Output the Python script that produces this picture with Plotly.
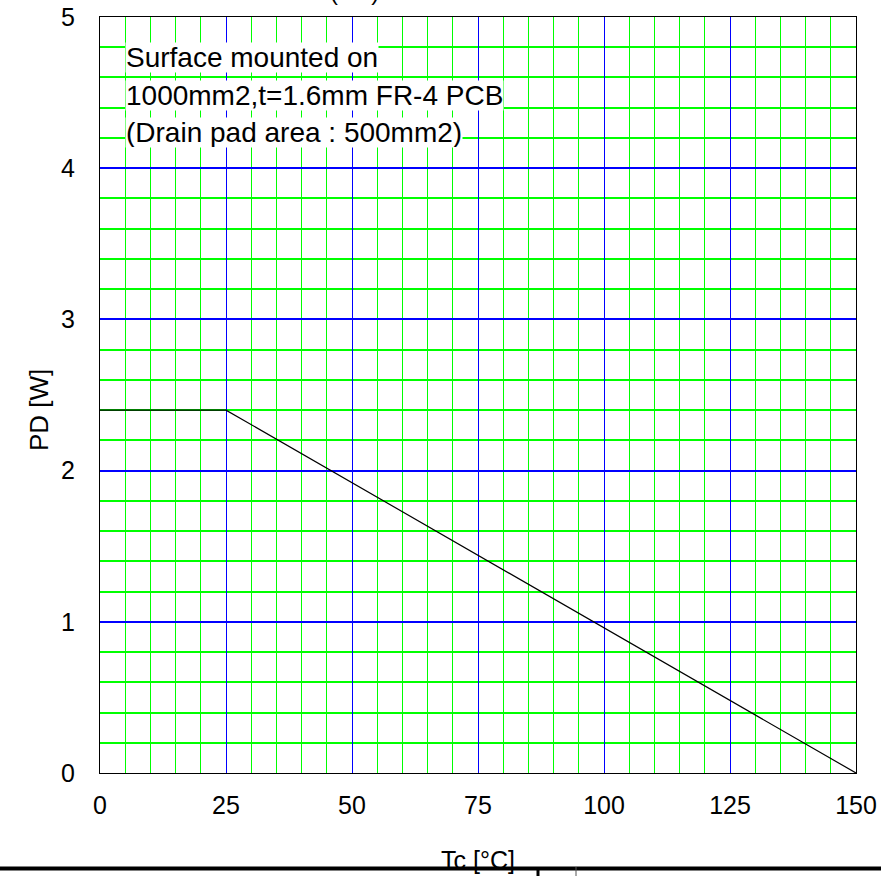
import plotly.graph_objects as go

# Data
tc = [0, 25, 150]
pd_w = [2.4, 2.4, 0]
x_ticks = [0, 25, 50, 75, 100, 125, 150]
y_ticks = [0, 1, 2, 3, 4, 5]
note_lines = ["Surface mounted on", "1000mm2,t=1.6mm FR-4 PCB", "(Drain pad area : 500mm2)"]
note_y = [4.735, 4.484, 4.233]

W, H = 881, 876
L, R, T, B = 100, 25, 17, 103
pw, ph = W - L - R, H - T - B

def px_to_paper_x(px):
    return (px - L) / pw

def px_to_paper_y(py):
    return (H - B - py) / ph

FONT = "Liberation Sans, Arial, sans-serif"

fig = go.Figure()
# invisible trace on the major-grid overlay axes so they get drawn
fig.add_trace(go.Scatter(x=[tc[0]], y=[pd_w[0]], xaxis="x2", yaxis="y2", mode="markers",
                         marker=dict(opacity=0), showlegend=False, hoverinfo="skip"))
fig.add_trace(go.Scatter(x=tc, y=pd_w, mode="lines",
                         line=dict(color="black", width=1.2), showlegend=False,
                         hoverinfo="skip"))

tickfont = dict(family=FONT, size=25, color="black")

fig.update_layout(
    xaxis=dict(range=[0, 150], dtick=5, tick0=0, showgrid=True, gridcolor="#00ff00",
               gridwidth=1, showticklabels=False, ticks="", zeroline=False,
               showline=True, mirror=True, linecolor="black", linewidth=1),
    yaxis=dict(range=[0, 5], dtick=0.2, tick0=0, showgrid=True, gridcolor="#00ff00",
               gridwidth=1.5, showticklabels=False, ticks="", zeroline=False,
               showline=True, mirror=True, linecolor="black", linewidth=1),
    xaxis2=dict(range=[0, 150], overlaying="x", side="bottom", tickvals=x_ticks,
                ticktext=[str(v) for v in x_ticks], showgrid=True, gridcolor="#0000ff",
                gridwidth=1, ticks="", zeroline=False, tickfont=tickfont,
                ticklabelstandoff=15, showline=False),
    yaxis2=dict(range=[0, 5], overlaying="y", side="left", tickvals=y_ticks,
                ticktext=[str(v) for v in y_ticks], showgrid=True, gridcolor="#0000ff",
                gridwidth=1.5, ticks="", zeroline=False, tickfont=tickfont,
                ticklabelstandoff=24, showline=False),
)

annotations = []
for txt, yv in zip(note_lines, note_y):
    annotations.append(dict(x=5, y=yv, xref="x", yref="y", text=txt, showarrow=False,
                            xanchor="left", yanchor="middle", bgcolor="white", height=29,
                            borderpad=0, font=dict(family=FONT, size=28, color="black")))

# axis titles
annotations.append(dict(x=px_to_paper_x(22), y=px_to_paper_y(410), xref="paper", yref="paper",
                        text="PD [W]", textangle=-90, showarrow=False,
                        font=dict(family=FONT, size=26, color="black")))
annotations.append(dict(x=px_to_paper_x(478), y=px_to_paper_y(860), xref="paper", yref="paper",
                        text="Tc [°C]", showarrow=False, yanchor="middle",
                        font=dict(family=FONT, size=25, color="black")))
# cut-off title at the top
annotations.append(dict(x=px_to_paper_x(354), y=px_to_paper_y(6), xref="paper", yref="paper",
                        text="(PD)", showarrow=False, yanchor="bottom", borderpad=0,
                        font=dict(family=FONT, size=24, color="black")))

shapes = [
    dict(type="line", xref="paper", yref="paper",
         x0=px_to_paper_x(0), x1=px_to_paper_x(W), y0=px_to_paper_y(868.5), y1=px_to_paper_y(868.5),
         line=dict(color="black", width=4), layer="above"),
    dict(type="line", xref="paper", yref="paper",
         x0=px_to_paper_x(538), x1=px_to_paper_x(538), y0=px_to_paper_y(867), y1=px_to_paper_y(880),
         line=dict(color="black", width=3), layer="above"),
    dict(type="line", xref="paper", yref="paper",
         x0=px_to_paper_x(576), x1=px_to_paper_x(576), y0=px_to_paper_y(867), y1=px_to_paper_y(880),
         line=dict(color="#555", width=1), layer="above"),
]

fig.update_layout(width=W, height=H, margin=dict(l=L, r=R, t=T, b=B, autoexpand=False),
                  plot_bgcolor="white", paper_bgcolor="white",
                  annotations=annotations, shapes=shapes,
                  font=dict(family=FONT, color="black"))

fig.write_html("out.html")
